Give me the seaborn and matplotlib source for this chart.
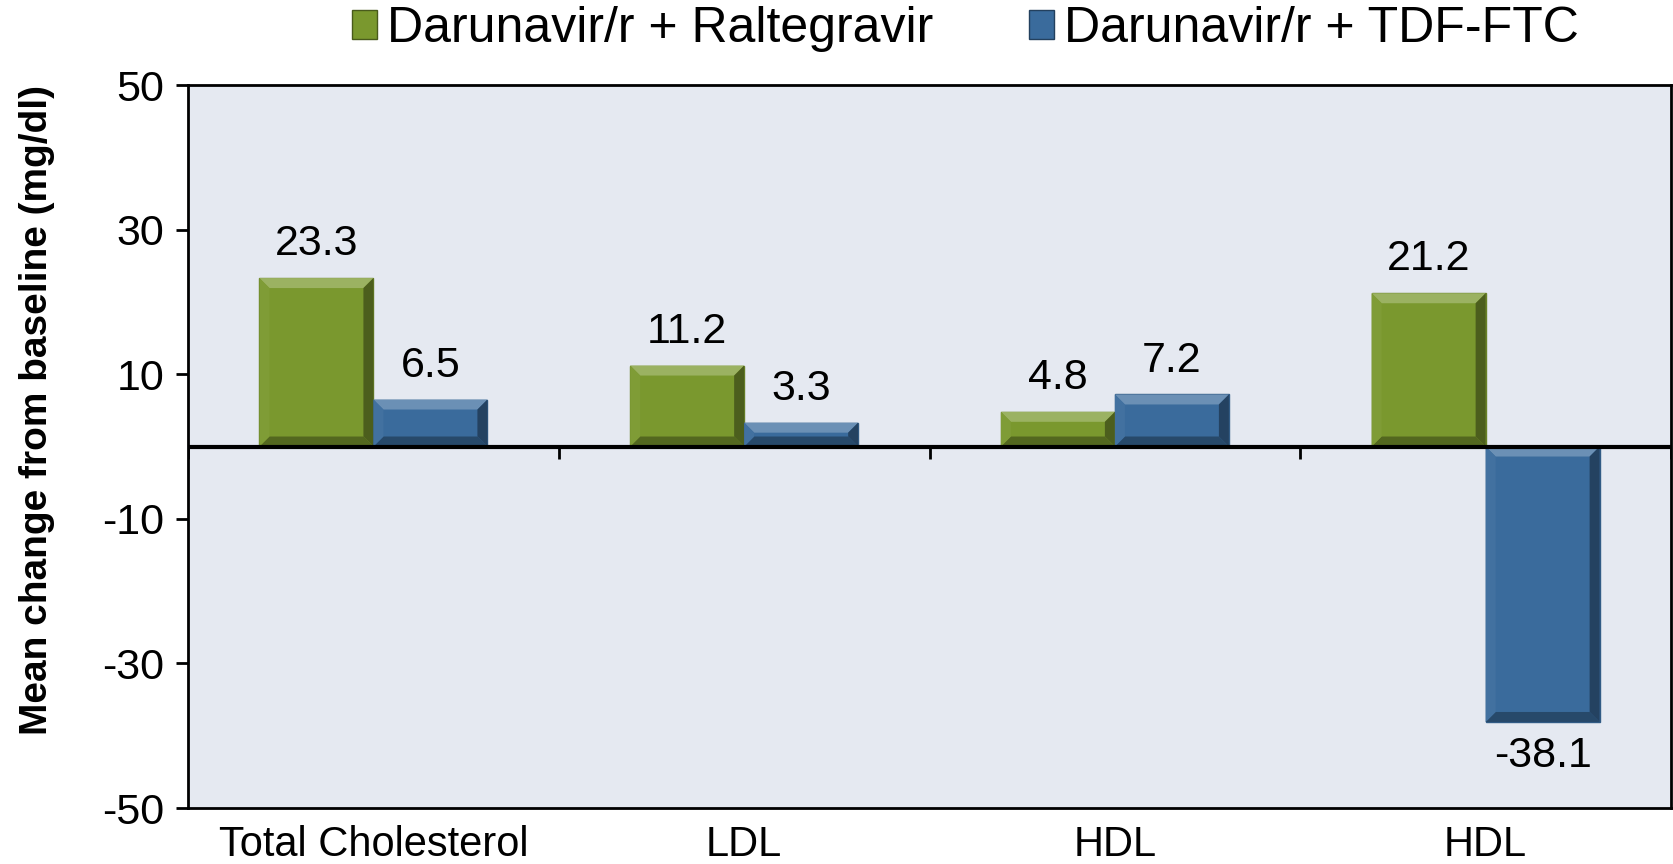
import numpy as np
import pandas as pd
import matplotlib
matplotlib.use("Agg")
import matplotlib.pyplot as plt
from matplotlib.patches import Patch, Polygon
import matplotlib.colors as mcolors
import seaborn as sns

# data
categories = ["Total Cholesterol", "LDL", "HDL", "HDL"]
series = ["Darunavir/r + Raltegravir", "Darunavir/r + TDF-FTC"]
raltegravir = [23.3, 11.2, 4.8, 21.2]
tdf_ftc = [6.5, 3.3, 7.2, -38.1]
y_ticks = [50, 30, 10, -10, -30, -50]

COLORS = {series[0]: "#7A982E", series[1]: "#3A6B9C"}
BG = "#E5E9F1"

rows = []
for i, cat in enumerate(categories):
    rows.append({"pos": i, "Treatment": series[0], "Change": raltegravir[i]})
    rows.append({"pos": i, "Treatment": series[1], "Change": tdf_ftc[i]})
df = pd.DataFrame(rows)

sns.set_theme(style="white")
plt.rcParams["font.family"] = ["Liberation Sans", "DejaVu Sans"]
plt.rcParams["text.color"] = "black"
plt.rcParams["axes.labelcolor"] = "black"
plt.rcParams["xtick.color"] = "black"
plt.rcParams["ytick.color"] = "black"

fig = plt.figure(figsize=(16.73, 8.64), dpi=100)
ax = fig.add_axes([0.1124, 0.0648, 0.8864, 0.8368])
ax.set_facecolor(BG)

sns.barplot(data=df, x="pos", y="Change", hue="Treatment", hue_order=series,
            palette=COLORS, saturation=1, width=0.615, gap=0, legend=False,
            edgecolor="none", linewidth=0, ax=ax, zorder=2)

ax.set_ylim(-50, 50)
ax.set_xlim(-0.5, len(categories) - 0.5)
ax.set_yticks(y_ticks)
ax.set_yticklabels([str(t) for t in y_ticks], fontsize=31)
ax.set_xticks(range(len(categories)))
ax.set_xticklabels(categories, fontsize=30)
ax.tick_params(axis="x", length=0, pad=12)
ax.tick_params(axis="y", left=True, length=9, width=2, color="black", pad=8)
ax.set_xlabel("")
ax.set_ylabel("Mean change from baseline (mg/dl)", fontsize=28, fontweight="bold")
ax.yaxis.set_label_coords(-0.09, 0.55)
for sp in ax.spines.values():
    sp.set_color("black")
    sp.set_linewidth(2)

# bevel effect on each bar, sized in pixels
inv = ax.transData.inverted()
p0 = inv.transform((0, 0))
p1 = inv.transform((10, 10))
dx, dy = p1[0] - p0[0], p1[1] - p0[1]


def shade(c, f):
    r, g, b = mcolors.to_rgb(c)
    if f > 1:
        return (r + (1 - r) * (f - 1), g + (1 - g) * (f - 1), b + (1 - b) * (f - 1))
    return (r * f, g * f, b * f)


for container in ax.containers:
    for bar in container:
        c = bar.get_facecolor()
        x0 = bar.get_x()
        x1 = x0 + bar.get_width()
        ylo = min(bar.get_y(), bar.get_y() + bar.get_height())
        yhi = max(bar.get_y(), bar.get_y() + bar.get_height())
        faces = [
            ([(x0, yhi), (x1, yhi), (x1 - dx, yhi - dy), (x0 + dx, yhi - dy)], shade(c, 1.25)),
            ([(x0, ylo), (x1, ylo), (x1 - dx, ylo + dy), (x0 + dx, ylo + dy)], shade(c, 0.68)),
            ([(x0, ylo), (x0, yhi), (x0 + dx, yhi - dy), (x0 + dx, ylo + dy)], shade(c, 1.04)),
            ([(x1, ylo), (x1, yhi), (x1 - dx, yhi - dy), (x1 - dx, ylo + dy)], shade(c, 0.62)),
        ]
        for pts, col in faces:
            ax.add_patch(Polygon(pts, closed=True, facecolor=col, edgecolor="none", zorder=3))
        bar.set_edgecolor(shade(c, 0.85))
        bar.set_linewidth(1)

    ax.bar_label(container, fmt="%.1f", padding=10, fontsize=31, zorder=5)

# zero line with category separators
ax.axhline(0, color="black", linewidth=3, zorder=4)
ax.vlines(np.arange(len(categories) + 1) - 0.5, -1.7, 0, color="black", linewidth=2, zorder=4)

handles = [Patch(facecolor=COLORS[s], edgecolor=shade(COLORS[s], 0.6), label=s) for s in series]
fig.legend(handles=handles, loc="center", bbox_to_anchor=(0.577, 0.966), ncol=2,
           frameon=False, fontsize=36, handlelength=0.5, handleheight=0.5,
           handletextpad=0.2, columnspacing=1.9)

fig.savefig("out.png", dpi=100)
